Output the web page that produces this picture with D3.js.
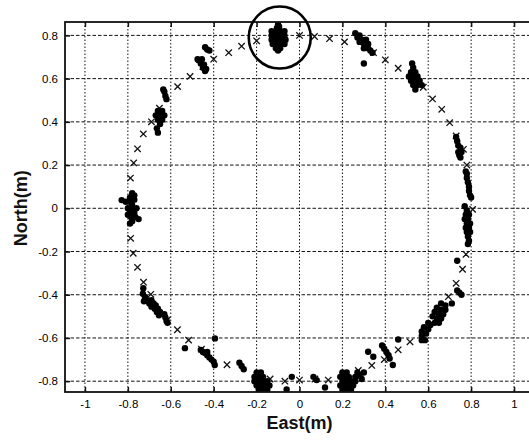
<!DOCTYPE html>
<html>
<head>
<meta charset="utf-8">
<script src="https://cdn.jsdelivr.net/npm/d3@7"></script>
<style>
  body { margin: 0; background: #fff; }
  svg { display: block; font-family: "Liberation Sans", Arial, sans-serif; }
  .grid line { stroke: #111; stroke-width: 1; }
  .tick text { font-size: 11.5px; fill: #000; }
  .axis-title { font-size: 18px; font-weight: bold; fill: #111; }
</style>
</head>
<body>
<svg id="chart" width="529" height="441"></svg>
<script>
// tick values
const eastTicks = [-1, -0.8, -0.6, -0.4, -0.2, 0, 0.2, 0.4, 0.6, 0.8, 1];
const northTicks = [-0.8, -0.6, -0.4, -0.2, 0, 0.2, 0.4, 0.6, 0.8];

// reference trajectory (x markers), [east, north]
const refPoints = [
  [-0.2, 0.775], [-0.27, 0.75], [-0.33, 0.72], [-0.4, 0.69], [-0.45, 0.656],
  [-0.51, 0.61], [-0.568, 0.563], [-0.653, 0.463], [-0.69, 0.4], [-0.728, 0.344],
  [-0.755, 0.275], [-0.773, 0.21], [-0.788, 0.14],
  [-0.787, -0.139], [-0.775, -0.208], [-0.755, -0.273], [-0.727, -0.342], [-0.693, -0.398],
  [-0.616, -0.517], [-0.569, -0.562], [-0.517, -0.61], [-0.457, -0.652], [-0.338, -0.724],
  [-0.137, -0.79], [-0.068, -0.8], [0, -0.795], [0.072, -0.79], [0.134, -0.795],
  [0.274, -0.75], [0.337, -0.727], [0.395, -0.7], [0.46, -0.655], [0.515, -0.618],
  [0.694, -0.409], [0.73, -0.347], [0.76, -0.282], [0.776, -0.213], [0.807, -0.005],
  [0.78, 0.2], [0.764, 0.273], [0.73, 0.335], [0.7, 0.396], [0.663, 0.458],
  [0.62, 0.506], [0.577, 0.56], [0.46, 0.648], [0.4, 0.687], [0.345, 0.72],
  [0.21, 0.77], [0.14, 0.785], [0.07, 0.795], [0, 0.8]
];

// measured positions (dots), [east, north]
const measPoints = [
  // top, circled
  [-0.1, 0.85], [-0.095, 0.84], [-0.105, 0.835],
  [-0.13, 0.82], [-0.11, 0.82], [-0.09, 0.82], [-0.07, 0.82],
  [-0.13, 0.8], [-0.11, 0.8], [-0.09, 0.8], [-0.07, 0.8],
  [-0.13, 0.78], [-0.11, 0.78], [-0.09, 0.78], [-0.065, 0.78],
  [-0.125, 0.76], [-0.105, 0.76], [-0.085, 0.76], [-0.07, 0.76],
  [-0.11, 0.74], [-0.09, 0.74], [-0.1, 0.73],
  // top right
  [0.26, 0.81], [0.28, 0.8], [0.27, 0.79], [0.29, 0.78], [0.31, 0.78],
  [0.28, 0.77], [0.3, 0.76], [0.32, 0.76], [0.31, 0.755], [0.3, 0.74],
  [0.32, 0.74], [0.33, 0.73], [0.34, 0.72], [0.3, 0.67],
  [0.525, 0.67], [0.53, 0.65], [0.52, 0.63], [0.54, 0.63], [0.51, 0.61],
  [0.53, 0.61], [0.55, 0.61], [0.52, 0.59], [0.54, 0.59], [0.56, 0.59],
  [0.53, 0.57], [0.55, 0.57], [0.57, 0.57], [0.54, 0.55],
  // right
  [0.73, 0.33], [0.735, 0.31], [0.74, 0.29], [0.75, 0.28], [0.74, 0.26],
  [0.755, 0.26], [0.745, 0.245], [0.75, 0.235],
  [0.775, 0.17], [0.78, 0.16], [0.78, 0.14], [0.785, 0.12], [0.79, 0.1],
  [0.79, 0.08], [0.795, 0.06], [0.8, 0.05],
  [0.77, 0.01], [0.78, -0.01], [0.775, -0.03], [0.79, -0.03], [0.77, -0.05],
  [0.785, -0.05], [0.78, -0.07], [0.795, -0.07], [0.775, -0.09], [0.79, -0.09],
  [0.78, -0.11], [0.795, -0.11], [0.785, -0.13], [0.79, -0.15], [0.785, -0.165],
  [0.735, -0.243], [0.735, -0.38], [0.745, -0.39], [0.755, -0.4], [0.71, -0.44],
  // lower right
  [0.66, -0.44], [0.68, -0.45], [0.64, -0.46], [0.66, -0.47], [0.68, -0.47],
  [0.63, -0.48], [0.65, -0.49], [0.67, -0.49], [0.62, -0.5], [0.64, -0.51],
  [0.66, -0.51], [0.63, -0.53], [0.65, -0.53], [0.61, -0.54], [0.6, -0.53],
  [0.58, -0.55], [0.6, -0.56], [0.57, -0.57], [0.59, -0.58], [0.57, -0.59],
  [0.585, -0.61], [0.57, -0.61],
  [0.46, -0.607], [0.385, -0.635], [0.395, -0.65], [0.405, -0.665], [0.415, -0.68],
  [0.42, -0.695], [0.435, -0.725], [0.32, -0.664], [0.344, -0.687],
  // bottom
  [0.2, -0.76], [0.22, -0.76], [0.19, -0.78], [0.21, -0.78], [0.23, -0.78],
  [0.2, -0.8], [0.22, -0.8], [0.24, -0.8], [0.19, -0.82], [0.21, -0.82],
  [0.23, -0.82], [0.25, -0.82], [0.2, -0.84], [0.22, -0.84], [0.24, -0.84],
  [0.26, -0.78], [0.27, -0.76], [0.28, -0.775], [0.3, -0.76], [0.29, -0.79], [0.26, -0.8],
  [0.065, -0.78], [0.08, -0.795], [0.119, -0.829], [-0.036, -0.78], [-0.06, -0.838],
  [-0.2, -0.76], [-0.18, -0.76], [-0.21, -0.78], [-0.19, -0.78], [-0.17, -0.78],
  [-0.21, -0.8], [-0.19, -0.8], [-0.17, -0.8], [-0.15, -0.8], [-0.2, -0.82],
  [-0.18, -0.82], [-0.16, -0.82], [-0.14, -0.82], [-0.19, -0.84], [-0.17, -0.84], [-0.15, -0.84],
  [-0.28, -0.715], [-0.27, -0.73], [-0.26, -0.745],
  // lower left
  [-0.46, -0.655], [-0.45, -0.665], [-0.43, -0.665], [-0.44, -0.67], [-0.43, -0.68],
  [-0.42, -0.69], [-0.41, -0.7], [-0.4, -0.71], [-0.395, -0.725],
  [-0.394, -0.602], [-0.534, -0.647],
  [-0.728, -0.37], [-0.73, -0.395], [-0.72, -0.41], [-0.725, -0.43], [-0.71, -0.425],
  [-0.7, -0.44], [-0.69, -0.425], [-0.68, -0.44], [-0.67, -0.45], [-0.69, -0.455],
  [-0.675, -0.465], [-0.66, -0.465], [-0.665, -0.48], [-0.65, -0.48], [-0.655, -0.495],
  [-0.63, -0.49], [-0.625, -0.505], [-0.62, -0.52], [-0.615, -0.53],
  // left
  [-0.78, 0.07], [-0.77, 0.06], [-0.79, 0.05], [-0.77, 0.04], [-0.81, 0.03],
  [-0.79, 0.03], [-0.78, 0.015], [-0.8, 0], [-0.78, 0], [-0.76, 0],
  [-0.79, -0.02], [-0.77, -0.02], [-0.8, -0.03], [-0.785, -0.04], [-0.765, -0.04],
  [-0.75, -0.05], [-0.78, -0.06], [-0.79, -0.07], [-0.829, 0.038],
  // upper left
  [-0.66, 0.45], [-0.64, 0.45], [-0.67, 0.43], [-0.65, 0.43], [-0.63, 0.43],
  [-0.66, 0.41], [-0.64, 0.41], [-0.65, 0.39], [-0.665, 0.37], [-0.66, 0.35],
  [-0.635, 0.55], [-0.63, 0.54], [-0.625, 0.52], [-0.62, 0.505],
  [-0.44, 0.745], [-0.43, 0.735], [-0.42, 0.73], [-0.475, 0.69], [-0.47, 0.685],
  [-0.455, 0.69], [-0.46, 0.67], [-0.445, 0.665], [-0.45, 0.65], [-0.435, 0.645], [-0.44, 0.635]
];

// circled highlight, [east, north]
const highlight = [-0.092, 0.79];

const svg = d3.select('#chart');
const W = 529, H = 441;
const plot = { left: 65, top: 22, right: 534, bottom: 392 };

svg.append('rect').attr('width', W).attr('height', H).attr('fill', '#fff');

const x = d3.scaleLinear().domain([-1.093, 1.093]).range([plot.left, plot.right]);
const y = d3.scaleLinear().domain([-0.85, 0.862]).range([plot.bottom, plot.top]);

svg.append('clipPath').attr('id', 'plot-clip')
  .append('rect')
  .attr('x', plot.left).attr('y', plot.top)
  .attr('width', plot.right - plot.left).attr('height', plot.bottom - plot.top);

// grid
const grid = svg.append('g').attr('class', 'grid');
grid.selectAll('line.v')
  .data(eastTicks)
  .join('line')
  .attr('class', 'v')
  .attr('x1', d => x(d)).attr('x2', d => x(d))
  .attr('y1', plot.top).attr('y2', plot.bottom)
  .attr('stroke-dasharray', '1.5,2');
grid.selectAll('line.h')
  .data(northTicks)
  .join('line')
  .attr('class', 'h')
  .attr('y1', d => y(d)).attr('y2', d => y(d))
  .attr('x1', plot.left).attr('x2', plot.right)
  .attr('stroke-dasharray', '3.5,2');

const fmt = d => String(+d.toFixed(1));

// axes (inward ticks, MATLAB style)
svg.append('g')
  .attr('transform', `translate(0,${plot.bottom})`)
  .call(d3.axisBottom(x).tickValues(eastTicks).tickFormat(fmt).tickSizeInner(-5).tickSizeOuter(0).tickPadding(8))
  .call(g => g.select('.domain').remove())
  .call(g => g.selectAll('.tick line').attr('stroke', '#111').attr('stroke-width', 1.5));

svg.append('g')
  .attr('transform', `translate(0,${plot.top})`)
  .call(d3.axisTop(x).tickValues(eastTicks).tickFormat('').tickSizeInner(-5).tickSizeOuter(0))
  .call(g => g.select('.domain').remove())
  .call(g => g.selectAll('.tick line').attr('stroke', '#111').attr('stroke-width', 1.5));

svg.append('g')
  .attr('transform', `translate(${plot.left},0)`)
  .call(d3.axisLeft(y).tickValues(northTicks).tickFormat(fmt).tickSizeInner(-5).tickSizeOuter(0).tickPadding(7))
  .call(g => g.select('.domain').remove())
  .call(g => g.selectAll('.tick line').attr('stroke', '#111').attr('stroke-width', 1.5));

const marks = svg.append('g').attr('clip-path', 'url(#plot-clip)');

// reference x markers
const s = 3.2;
marks.selectAll('path.ref')
  .data(refPoints)
  .join('path')
  .attr('class', 'ref')
  .attr('d', d => {
    const cx = x(d[0]), cy = y(d[1]);
    return `M${cx - s},${cy - s}L${cx + s},${cy + s}M${cx - s},${cy + s}L${cx + s},${cy - s}`;
  })
  .attr('stroke', '#111')
  .attr('stroke-width', 1.3)
  .attr('fill', 'none');

// measured dots
marks.selectAll('circle.meas')
  .data(measPoints)
  .join('circle')
  .attr('class', 'meas')
  .attr('cx', d => x(d[0]))
  .attr('cy', d => y(d[1]))
  .attr('r', 3.2)
  .attr('fill', '#000');

// plot frame
svg.append('rect')
  .attr('x', plot.left).attr('y', plot.top)
  .attr('width', plot.right - plot.left).attr('height', plot.bottom - plot.top)
  .attr('fill', 'none')
  .attr('stroke', '#111')
  .attr('stroke-width', 1.8);

// highlight circle
svg.append('circle')
  .attr('cx', x(highlight[0]))
  .attr('cy', y(highlight[1]))
  .attr('r', 31)
  .attr('fill', 'none')
  .attr('stroke', '#000')
  .attr('stroke-width', 2.6);

// axis titles
svg.append('text')
  .attr('class', 'axis-title')
  .attr('x', x(0))
  .attr('y', 429)
  .attr('text-anchor', 'middle')
  .text('East(m)');

svg.append('text')
  .attr('class', 'axis-title')
  .attr('transform', `translate(27,${y(0)}) rotate(-90)`)
  .attr('text-anchor', 'middle')
  .text('North(m)');
</script>
</body>
</html>
